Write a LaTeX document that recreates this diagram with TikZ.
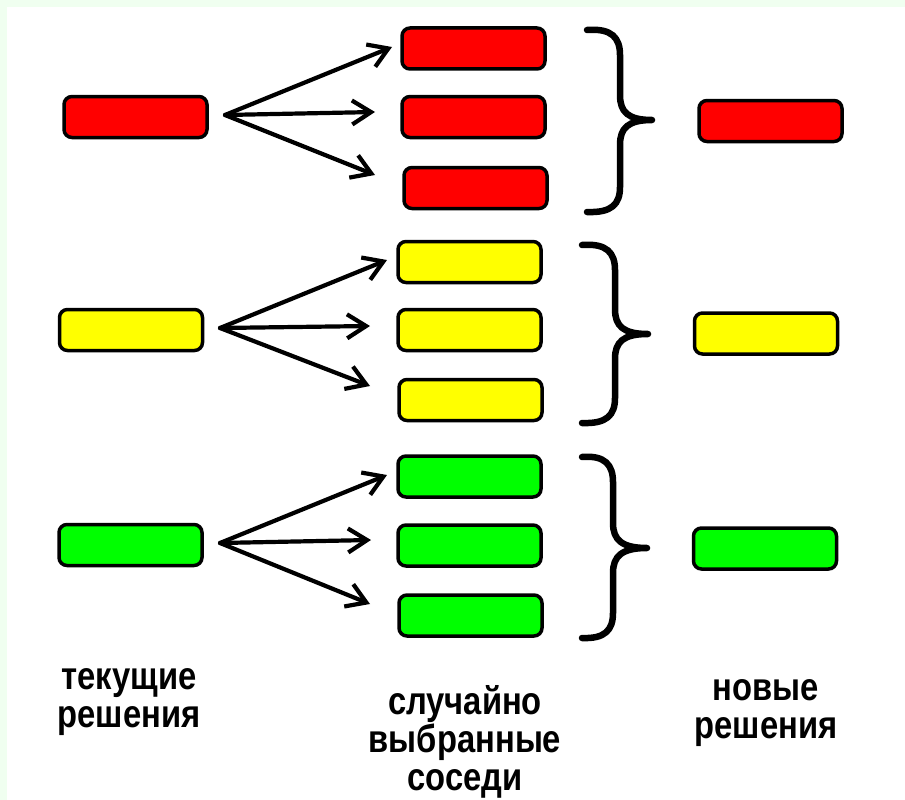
\documentclass[tikz,border=0pt]{standalone}
\usepackage{fontspec}
\newfontfamily\lab{Liberation Sans}[FakeStretch=0.84]
\usetikzlibrary{arrows.meta}
\definecolor{edgegreen}{RGB}{240,255,240}
\definecolor{boxred}{RGB}{255,0,0}
\definecolor{boxyellow}{RGB}{255,255,0}
\definecolor{boxgreen}{RGB}{0,255,0}
\tikzset{
  box/.style={draw=black, line width=3.5pt, rounded corners=8pt,
    minimum width=143pt, minimum height=41pt, inner sep=0pt},
  arr/.style={draw=black, line width=4.2pt, line cap=round,
    -{Straight Barb[length=19pt, width=24pt, line width=4.2pt]}},
  brace/.style={draw=black, line width=6.5pt, line cap=round, line join=round},
  lab/.style={font=\lab\bfseries\fontsize{39}{38}\selectfont, align=center, inner sep=0pt}
}
\begin{document}
\begin{tikzpicture}[x=1pt, y=-1pt]
\useasboundingbox (0,0) rectangle (905,800);
\fill[white] (0,0) rectangle (905,800);
\fill[edgegreen] (0,0) rectangle (905,7);
\fill[edgegreen] (0,0) rectangle (7,800);

% current solutions
\node[box, fill=boxred]    (lr) at (135.5,117) {};
\node[box, fill=boxyellow] (ly) at (131,330) {};
\node[box, fill=boxgreen]  (lg) at (130.5,545) {};

% neighbours
\node[box, fill=boxred] (mr1) at (473.5,48.5) {};
\node[box, fill=boxred] (mr2) at (473.5,117) {};
\node[box, fill=boxred] (mr3) at (475.5,188) {};
\node[box, fill=boxyellow] (my1) at (469.5,262) {};
\node[box, fill=boxyellow] (my2) at (469.5,330) {};
\node[box, fill=boxyellow] (my3) at (470.5,400) {};
\node[box, fill=boxgreen] (mg1) at (469.5,476.5) {};
\node[box, fill=boxgreen] (mg2) at (469.5,545.5) {};
\node[box, fill=boxgreen] (mg3) at (470.5,615.5) {};

% new solutions
\node[box, fill=boxred]    (rr) at (770.5,121) {};
\node[box, fill=boxyellow] (ry) at (766,333.5) {};
\node[box, fill=boxgreen]  (rg) at (765,548.5) {};

% arrow origins and ends
\coordinate (ro) at (225,115);
\coordinate (re1) at (392,47);
\coordinate (re2) at (375,112);
\coordinate (re3) at (375,175);
\coordinate (yo) at (220,328);
\coordinate (ye1) at (387,260);
\coordinate (ye2) at (370,326);
\coordinate (ye3) at (370,386);
\coordinate (go) at (220,543);
\coordinate (ge1) at (387,475);
\coordinate (ge2) at (371,540);
\coordinate (ge3) at (370,604);

\draw[arr] (ro) -- (re1);
\draw[arr] (ro) -- (re2);
\draw[arr] (ro) -- (re3);
\draw[arr] (yo) -- (ye1);
\draw[arr] (yo) -- (ye2);
\draw[arr] (yo) -- (ye3);
\draw[arr] (go) -- (ge1);
\draw[arr] (go) -- (ge2);
\draw[arr] (go) -- (ge3);

% braces
\draw[brace] (587,30) .. controls (612,28) and (620,38) .. (620,55) -- (620,95)
  .. controls (620,112) and (628,120) .. (652,120)
  .. controls (628,120) and (620,128) .. (620,145) -- (620,187)
  .. controls (620,204) and (612,213) .. (587,212);
\draw[brace] (582,245) .. controls (607,243) and (615,253) .. (615,270) -- (615,309)
  .. controls (615,326) and (623,334) .. (648,334)
  .. controls (623,334) and (615,342) .. (615,359) -- (615,398)
  .. controls (615,415) and (607,424) .. (582,423);
\draw[brace] (582,457) .. controls (605,455) and (613,465) .. (613,482) -- (613,523)
  .. controls (613,540) and (622,548) .. (647,548)
  .. controls (622,548) and (613,556) .. (613,573) -- (613,613)
  .. controls (613,630) and (605,639) .. (582,638);

% labels
\node[lab, anchor=base] (tl) at (129,727) {текущие\\решения};
\node[lab, anchor=base] (tm) at (465,790) {случайно\\выбранные\\соседи};
\node[lab, anchor=base] (tr) at (766,738) {новые\\решения};
\end{tikzpicture}
\end{document}
